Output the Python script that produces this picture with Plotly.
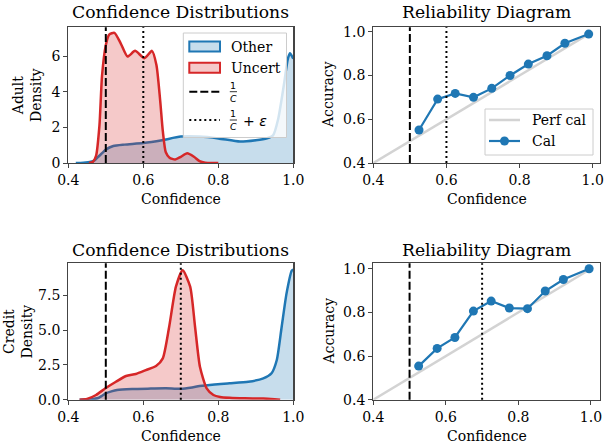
import plotly.graph_objects as go

# ---------------- data ----------------
adult_other_x = [0.42, 0.44, 0.46, 0.47, 0.48, 0.49, 0.50, 0.52, 0.55, 0.60, 0.65, 0.70, 0.75, 0.80,
                 0.858, 0.90, 0.93, 0.946, 0.96, 0.975, 0.985, 0.991, 1.0]
adult_other_y = [0.0, 0.02, 0.07, 0.15, 0.35, 0.55, 0.75, 0.95, 1.03, 1.12, 1.28, 1.48, 1.48, 1.38,
                 1.2, 1.28, 1.39, 1.55, 2.5, 4.4, 5.8, 6.15, 5.85]
adult_uncert_x = [0.455, 0.465, 0.474, 0.483, 0.49, 0.50, 0.509, 0.523, 0.54, 0.558, 0.578, 0.603,
                  0.623, 0.635, 0.645, 0.652, 0.66, 0.67, 0.685, 0.70, 0.717, 0.735, 0.75, 0.765, 0.80]
adult_uncert_y = [0.0, 0.05, 0.4, 2.1, 4.9, 6.6, 7.2, 7.3, 6.7, 5.97, 6.29, 5.88,
                  6.29, 5.5, 3.5, 1.8, 0.6, 0.3, 0.2, 0.35, 0.54, 0.35, 0.1, 0.01, 0.0]

credit_other_x = [0.43, 0.46, 0.48, 0.49, 0.50, 0.515, 0.53, 0.57, 0.62, 0.66, 0.70, 0.73, 0.75,
                  0.79, 0.83, 0.88, 0.92, 0.942, 0.956, 0.969, 0.982, 0.996, 1.0]
credit_other_y = [0.0, 0.03, 0.12, 0.28, 0.46, 0.6, 0.7, 0.77, 0.8, 0.82, 0.78, 0.88, 0.98,
                  1.1, 1.18, 1.29, 1.53, 1.9, 2.85, 5.24, 7.64, 9.27, 9.35]
credit_uncert_x = [0.43, 0.45, 0.474, 0.499, 0.527, 0.554, 0.58, 0.607, 0.634, 0.652, 0.669, 0.687,
                   0.705, 0.725, 0.738, 0.751, 0.769, 0.787, 0.805, 0.83, 0.87, 0.92, 0.95, 0.965]
credit_uncert_y = [0.0, 0.05, 0.34, 0.82, 1.29, 1.70, 1.85, 2.13, 2.42, 2.97, 5.24, 8.12,
                   9.3, 8.12, 5.24, 2.37, 0.82, 0.34, 0.2, 0.14, 0.1, 0.08, 0.03, 0.0]

adult_rel_conf = [0.525, 0.576, 0.624, 0.674, 0.724, 0.774, 0.824, 0.875, 0.924, 0.989]
adult_rel_acc = [0.551, 0.692, 0.718, 0.700, 0.741, 0.800, 0.852, 0.890, 0.947, 0.989]
credit_rel_conf = [0.525, 0.576, 0.625, 0.676, 0.725, 0.775, 0.825, 0.874, 0.924, 0.995]
credit_rel_acc = [0.554, 0.635, 0.685, 0.806, 0.852, 0.820, 0.817, 0.898, 0.951, 1.0]

perf_x = [0.0, 1.0]
perf_y = [0.0, 1.0]

inv_c = 0.5
adult_eps_thr = 0.6
credit_eps_thr = 0.7

x_ticks = [0.4, 0.6, 0.8, 1.0]
adult_density_ticks = [0, 2, 4, 6]
credit_density_ticks = [0.0, 2.5, 5.0, 7.5]
acc_ticks = [0.4, 0.6, 0.8, 1.0]

# ---------------- style ----------------
W, H = 611, 447
BLUE = "#1f77b4"
RED = "#d62728"
BLUE_FILL = "rgba(31,119,180,0.25)"
RED_FILL = "rgba(214,39,40,0.25)"
SERIF = "DejaVu Serif"
SANS = "DejaVu Sans"
FS = 14
TFS = 17.2


def px(x):
    return x / W


def py(y):
    return 1 - y / H


fig = go.Figure()

# KDE panels
def kde(xv, yv, color, fill, xa, ya):
    fig.add_trace(go.Scatter(x=xv, y=yv, mode="lines", line=dict(color=color, width=2.5, shape="spline", smoothing=0.6),
                             fill="tozeroy", fillcolor=fill, xaxis=xa, yaxis=ya, showlegend=False,
                             hoverinfo="skip"))

kde(adult_other_x, adult_other_y, BLUE, BLUE_FILL, "x", "y")
kde(adult_uncert_x, adult_uncert_y, RED, RED_FILL, "x", "y")
kde(credit_other_x, credit_other_y, BLUE, BLUE_FILL, "x3", "y3")
kde(credit_uncert_x, credit_uncert_y, RED, RED_FILL, "x3", "y3")

# reliability panels
for xa, ya, cx, cy in [("x2", "y2", adult_rel_conf, adult_rel_acc), ("x4", "y4", credit_rel_conf, credit_rel_acc)]:
    fig.add_trace(go.Scatter(x=perf_x, y=perf_y, mode="lines", line=dict(color="#d3d3d3", width=2.5),
                             xaxis=xa, yaxis=ya, showlegend=False, hoverinfo="skip"))
    fig.add_trace(go.Scatter(x=cx, y=cy, mode="lines+markers", line=dict(color=BLUE, width=2.2),
                             marker=dict(color=BLUE, size=9), xaxis=xa, yaxis=ya, showlegend=False,
                             hoverinfo="skip"))

shapes = []
# threshold lines
for xa, ya, thr in [("x", "y", adult_eps_thr), ("x2", "y2", adult_eps_thr),
                    ("x3", "y3", credit_eps_thr), ("x4", "y4", credit_eps_thr)]:
    shapes.append(dict(type="line", xref=xa, yref=ya + " domain", x0=inv_c, x1=inv_c, y0=0, y1=1,
                       line=dict(color="black", width=2, dash="8px,3px")))
    shapes.append(dict(type="line", xref=xa, yref=ya + " domain", x0=thr, x1=thr, y0=0, y1=1,
                       line=dict(color="black", width=2, dash="2px,3px")))

annotations = []

# ---- legend, top-left ----
shapes.append(dict(type="rect", xref="paper", yref="paper", x0=px(183.3), x1=px(286.5), y0=py(33), y1=py(137.5),
                   line=dict(color="#cccccc", width=1), fillcolor="rgba(255,255,255,0.8)"))
shapes.append(dict(type="rect", xref="paper", yref="paper", x0=px(189.3), x1=px(220), y0=py(41.5), y1=py(51.5),
                   line=dict(color=BLUE, width=2), fillcolor=BLUE_FILL))
shapes.append(dict(type="rect", xref="paper", yref="paper", x0=px(189.3), x1=px(220), y0=py(62.8), y1=py(72.8),
                   line=dict(color=RED, width=2), fillcolor=RED_FILL))
shapes.append(dict(type="line", xref="paper", yref="paper", x0=px(189.3), x1=px(220), y0=py(91.7), y1=py(91.7),
                   line=dict(color="black", width=2, dash="8px,3px")))
shapes.append(dict(type="line", xref="paper", yref="paper", x0=px(189.3), x1=px(220), y0=py(120), y1=py(120),
                   line=dict(color="black", width=2, dash="2px,3px")))
for yy in (91.7, 120):
    shapes.append(dict(type="line", xref="paper", yref="paper", x0=px(229.8), x1=px(237), y0=py(yy), y1=py(yy),
                       line=dict(color="black", width=0.8)))
    annotations.append(dict(text="1", x=px(233.4), y=py(yy - 6.5), xref="paper", yref="paper", showarrow=False,
                            xanchor="center", yanchor="middle", font=dict(family=SANS, size=9.5, color="black")))
    annotations.append(dict(text="<i>C</i>", x=px(233.4), y=py(yy + 6.8), xref="paper", yref="paper",
                            showarrow=False, xanchor="center", yanchor="middle",
                            font=dict(family=SANS, size=9.5, color="black")))
annotations.append(dict(text="+ <i>ε</i>", x=px(241), y=py(120.5), xref="paper", yref="paper", showarrow=False,
                        xanchor="left", yanchor="middle", font=dict(family=SANS, size=FS, color="black")))
for label, yy in (("Other", 46.5), ("Uncert", 67.8)):
    annotations.append(dict(text=label, x=px(229), y=py(yy), xref="paper", yref="paper", showarrow=False,
                            xanchor="left", yanchor="middle", font=dict(family=SERIF, size=FS, color="black")))

# ---- legend, top-right ----
shapes.append(dict(type="rect", xref="paper", yref="paper", x0=px(485), x1=px(593), y0=py(109), y1=py(155),
                   line=dict(color="#cccccc", width=1), fillcolor="rgba(255,255,255,0.8)"))
shapes.append(dict(type="line", xref="paper", yref="paper", x0=px(489), x1=px(520), y0=py(120), y1=py(120),
                   line=dict(color="#d3d3d3", width=2.5)))
shapes.append(dict(type="line", xref="paper", yref="paper", x0=px(489), x1=px(520), y0=py(141), y1=py(141),
                   line=dict(color=BLUE, width=2.2)))
shapes.append(dict(type="circle", xref="paper", yref="paper", xsizemode="pixel", ysizemode="pixel",
                   xanchor=px(504.5), yanchor=py(141), x0=-4.5, x1=4.5, y0=-4.5, y1=4.5,
                   line=dict(color=BLUE, width=0), fillcolor=BLUE))
for label, yy in (("Perf cal", 120), ("Cal", 141)):
    annotations.append(dict(text=label, x=px(530), y=py(yy), xref="paper", yref="paper", showarrow=False,
                            xanchor="left", yanchor="middle", font=dict(family=SERIF, size=FS, color="black")))

# ---- titles and axis labels ----
def ann(text, x, y, size=FS, angle=0):
    annotations.append(dict(text=text, x=px(x), y=py(y), xref="paper", yref="paper", showarrow=False,
                            xanchor="center", yanchor="middle", textangle=angle,
                            font=dict(family=SERIF, size=size, color="black")))

ann("Confidence Distributions", 180.8, 12.5, TFS)
ann("Reliability Diagram", 486.7, 12.5, TFS)
ann("Confidence Distributions", 180.8, 249.5, TFS)
ann("Reliability Diagram", 486.7, 249.5, TFS)
ann("Confidence", 180.8, 199)
ann("Confidence", 486.7, 199)
ann("Confidence", 180.8, 436)
ann("Confidence", 486.7, 436)
ann("Adult<br>Density", 27, 95, FS, -90)
ann("Credit<br>Density", 17, 331.5, FS, -90)
ann("Accuracy", 328, 95, FS, -90)
ann("Accuracy", 328, 331.5, FS, -90)

axis_common = dict(showline=True, mirror=True, linecolor="#444444", linewidth=1.2, ticks="outside",
                   ticklen=4, tickwidth=1, tickcolor="#444444", showgrid=False, zeroline=False,
                   automargin=False, tickfont=dict(family=SERIF, size=FS, color="black"))

left_dom = [px(68.3), px(293.3)]
right_dom = [px(373.3), px(600)]
top_dom = [py(163), py(27.3)]
bot_dom = [py(399.7), py(263.3)]

fig.update_layout(
    template="none",
    width=W, height=H, margin=dict(l=0, r=0, t=0, b=0, pad=0, autoexpand=False),
    plot_bgcolor="white", paper_bgcolor="white",
    showlegend=False, hovermode=False,
    xaxis=dict(domain=left_dom, anchor="y", range=[0.4, 1.0], tickvals=x_ticks, tickformat=".1f", **axis_common),
    yaxis=dict(domain=top_dom, anchor="x", range=[0, 7.61], tickvals=adult_density_ticks, tickformat="d", **axis_common),
    xaxis2=dict(domain=right_dom, anchor="y2", range=[0.4, 1.02], tickvals=x_ticks, tickformat=".1f", **axis_common),
    yaxis2=dict(domain=top_dom, anchor="x2", range=[0.4, 1.02], tickvals=acc_ticks, tickformat=".1f", **axis_common),
    xaxis3=dict(domain=left_dom, anchor="y3", range=[0.4, 1.0], tickvals=x_ticks, tickformat=".1f", **axis_common),
    yaxis3=dict(domain=bot_dom, anchor="x3", range=[0, 9.8], tickvals=credit_density_ticks, tickformat=".1f", **axis_common),
    xaxis4=dict(domain=right_dom, anchor="y4", range=[0.4, 1.025], tickvals=x_ticks, tickformat=".1f", **axis_common),
    yaxis4=dict(domain=bot_dom, anchor="x4", range=[0.4, 1.025], tickvals=acc_ticks, tickformat=".1f", **axis_common),
    shapes=shapes, annotations=annotations,
)

fig.write_html("out.html", config={"displayModeBar": False, "staticPlot": True},
               post_script="document.body.style.margin='0';document.body.style.overflow='hidden';")
